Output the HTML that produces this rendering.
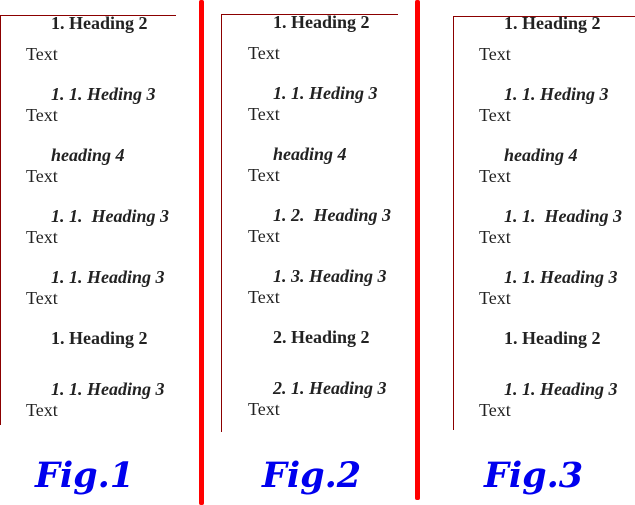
<!DOCTYPE html>
<html><head><meta charset="utf-8"><style>
body{margin:0;width:635px;height:505px;background:#fff;position:relative;overflow:hidden;font-family:"Liberation Serif",serif;color:#222}
.p{position:absolute;top:0;left:0;width:0;height:0}
.t{position:absolute;font-size:18px;line-height:20px;white-space:pre}
.b{font-weight:bold}.i{font-style:italic;font-weight:bold}
.ln{position:absolute;background:#8b0000}
.rb{position:absolute;background:#f00;width:5px;border-radius:2px}
.fig{position:absolute;top:452px;font-family:"DejaVu Serif",serif;font-weight:bold;font-style:italic;color:#0000ee;font-size:35px;line-height:48px}
</style></head><body>
<div class="ln" style="left:0;top:15px;width:176px;height:1px"></div>
<div class="ln" style="left:0;top:15px;width:1px;height:410px"></div>
<div class="ln" style="left:221px;top:14px;width:177px;height:1px"></div>
<div class="ln" style="left:221px;top:14px;width:1px;height:418px"></div>
<div class="ln" style="left:453px;top:16px;width:182px;height:1px"></div>
<div class="ln" style="left:453px;top:16px;width:1px;height:414px"></div>
<div class="rb" style="left:199px;top:0;height:505px"></div>
<div class="rb" style="left:415px;top:0;height:500px"></div>

<div class="p" style="left:0;top:0">
<div class="t b" style="left:51px;top:13px">1. Heading 2</div>
<div class="t" style="left:26px;top:44px">Text</div>
<div class="t i" style="left:51px;top:84px">1. 1. Heding 3</div>
<div class="t" style="left:26px;top:105px">Text</div>
<div class="t i" style="left:51px;top:145px">heading 4</div>
<div class="t" style="left:26px;top:166px">Text</div>
<div class="t i" style="left:51px;top:206px">1. 1.  Heading 3</div>
<div class="t" style="left:26px;top:227px">Text</div>
<div class="t i" style="left:51px;top:267px">1. 1. Heading 3</div>
<div class="t" style="left:26px;top:288px">Text</div>
<div class="t b" style="left:51px;top:328px">1. Heading 2</div>
<div class="t i" style="left:51px;top:379px">1. 1. Heading 3</div>
<div class="t" style="left:26px;top:400px">Text</div>
</div>

<div class="p" style="left:222px;top:-1px">
<div class="t b" style="left:51px;top:13px">1. Heading 2</div>
<div class="t" style="left:26px;top:44px">Text</div>
<div class="t i" style="left:51px;top:84px">1. 1. Heding 3</div>
<div class="t" style="left:26px;top:105px">Text</div>
<div class="t i" style="left:51px;top:145px">heading 4</div>
<div class="t" style="left:26px;top:166px">Text</div>
<div class="t i" style="left:51px;top:206px">1. 2.  Heading 3</div>
<div class="t" style="left:26px;top:227px">Text</div>
<div class="t i" style="left:51px;top:267px">1. 3. Heading 3</div>
<div class="t" style="left:26px;top:288px">Text</div>
<div class="t b" style="left:51px;top:328px">2. Heading 2</div>
<div class="t i" style="left:51px;top:379px">2. 1. Heading 3</div>
<div class="t" style="left:26px;top:400px">Text</div>
</div>

<div class="p" style="left:453px;top:0">
<div class="t b" style="left:51px;top:13px">1. Heading 2</div>
<div class="t" style="left:26px;top:44px">Text</div>
<div class="t i" style="left:51px;top:84px">1. 1. Heding 3</div>
<div class="t" style="left:26px;top:105px">Text</div>
<div class="t i" style="left:51px;top:145px">heading 4</div>
<div class="t" style="left:26px;top:166px">Text</div>
<div class="t i" style="left:51px;top:206px">1. 1.  Heading 3</div>
<div class="t" style="left:26px;top:227px">Text</div>
<div class="t i" style="left:51px;top:267px">1. 1. Heading 3</div>
<div class="t" style="left:26px;top:288px">Text</div>
<div class="t b" style="left:51px;top:328px">1. Heading 2</div>
<div class="t i" style="left:51px;top:379px">1. 1. Heading 3</div>
<div class="t" style="left:26px;top:400px">Text</div>
</div>

<div class="fig" style="left:35px">Fig.1</div>
<div class="fig" style="left:262px">Fig.2</div>
<div class="fig" style="left:484px">Fig.3</div>
</body></html>
